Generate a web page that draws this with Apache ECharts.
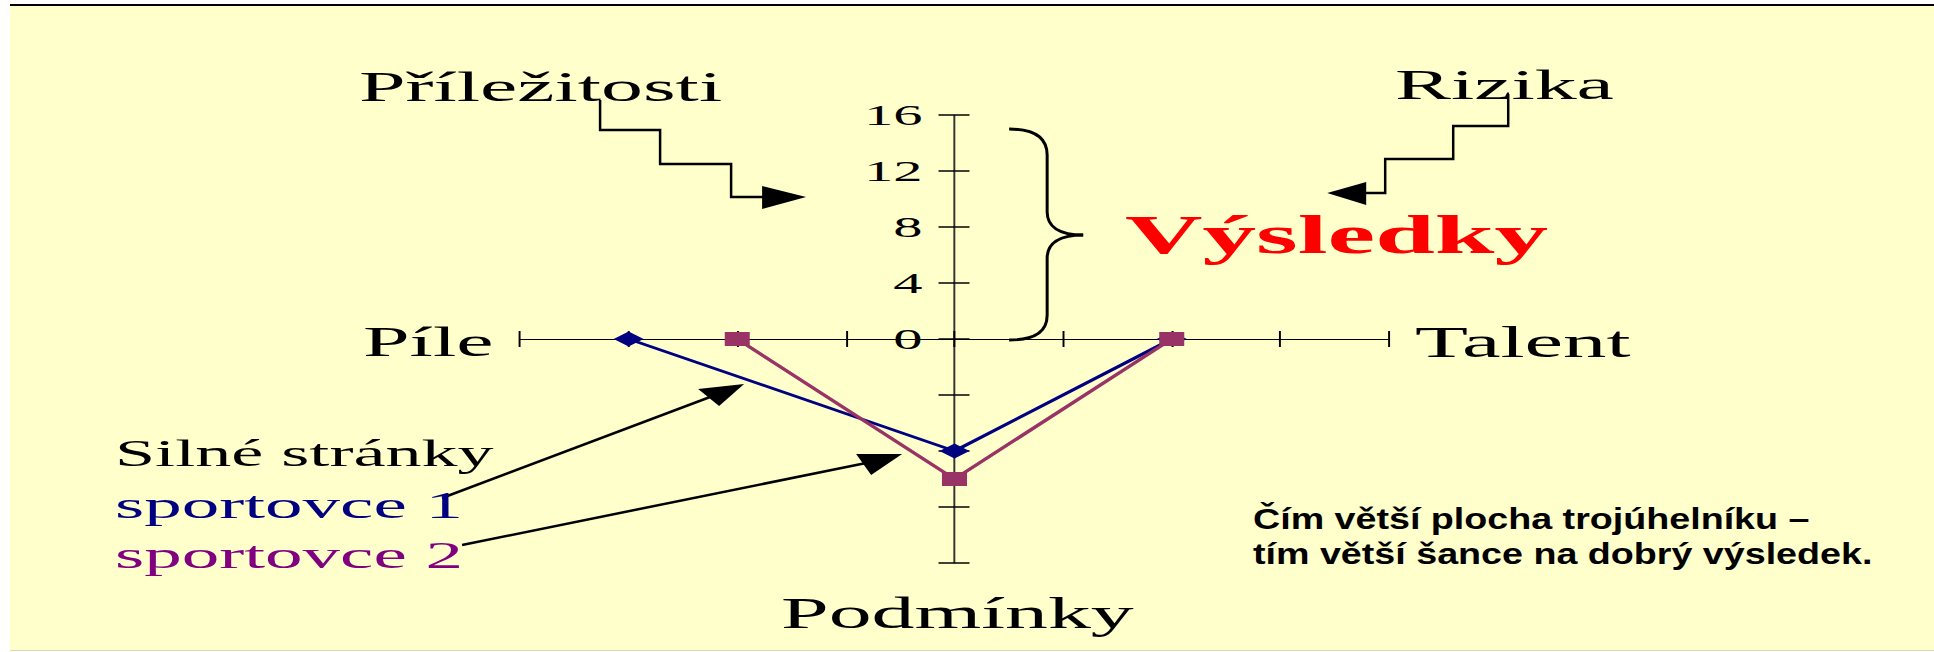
<!DOCTYPE html>
<html>
<head>
<meta charset="utf-8">
<title>Silné stránky sportovce</title>
<script src="https://cdn.jsdelivr.net/npm/echarts@6.0.0/dist/echarts.min.js"></script>
<style>
    html, body { margin: 0; padding: 0; background: #fff; overflow: hidden; }
    #chart { width: 992px; height: 652px; transform-origin: 0 0; }
</style>
</head>
<body>
<div id="chart"></div>
<script>
// hodnoty
var factors = ['Píle', 'Podmínky', 'Talent'];
var athlete1 = [12, 8, 8];
var athlete2 = [8, 10, 8];
var axisMin = -16;
var axisMax = 16;
var axisStep = 4;
var yTickLabels = [0, 4, 8, 12, 16];

// puvodni snimek je roztazeny do sirky
var S = 1934 / 992;
function fx(x) {
    return x / S;
}

function toPoints(values) {
    var dirs = { 'Píle': [-1, 0], 'Podmínky': [0, -1], 'Talent': [1, 0] };
    return factors.map(function (f, i) {
        return [dirs[f][0] * values[i], dirs[f][1] * values[i]];
    });
}

var serif = 'Liberation Serif';

function label(text, x, y, size, color, weight) {
    return {
        type: 'text',
        x: fx(x),
        y: y,
        z: 20,
        style: {
            text: text,
            fontFamily: serif,
            fontSize: size,
            fontWeight: weight || 'normal',
            fill: color || '#000',
            align: 'left',
            verticalAlign: 'middle'
        }
    };
}

function curve(x1, y1, c1x, c1y, c2x, c2y, x2, y2) {
    return {
        type: 'bezierCurve',
        shape: { x1: x1, y1: y1, cpx1: c1x, cpy1: c1y, cpx2: c2x, cpy2: c2y, x2: x2, y2: y2 },
        style: { stroke: '#000', lineWidth: 3, fill: null }
    };
}
function seg(x1, y1, x2, y2, w) {
    return { type: 'line', shape: { x1: x1, y1: y1, x2: x2, y2: y2 }, style: { stroke: '#000', lineWidth: w || 2.5 } };
}

// car v plnych souradnicich (skupina vraci roztazeni zpet)
var lineStyle = { stroke: '#000', lineWidth: 2.5, fill: null };
var shapes = [
    { type: 'polyline', shape: { points: [[600, 100], [600, 130], [660, 130], [660, 164], [731, 164], [731, 197], [766, 197]] }, style: lineStyle },
    { type: 'polygon', shape: { points: [[762, 186], [806, 197], [762, 209]] }, style: { fill: '#000' } },
    { type: 'polyline', shape: { points: [[1508, 94], [1508, 126], [1453, 126], [1453, 159], [1385, 159], [1385, 193], [1364, 193]] }, style: lineStyle },
    { type: 'polygon', shape: { points: [[1366, 182], [1327, 193], [1366, 205]] }, style: { fill: '#000' } },
    // slozena zavorka
    curve(1009, 129, 1035, 129, 1047, 138, 1047, 155),
    seg(1047, 155, 1047, 212, 3),
    curve(1047, 212, 1047, 226, 1058, 235, 1083, 235),
    curve(1083, 235, 1058, 235, 1047, 244, 1047, 258),
    seg(1047, 258, 1047, 315, 3),
    curve(1047, 315, 1047, 332, 1035, 340, 1009, 340),
    // sipky od popisku
    seg(442, 498, 710, 397),
    { type: 'polygon', shape: { points: [[744, 384], [698, 389], [719, 406]] }, style: { fill: '#000' } },
    seg(462, 545, 866, 463),
    { type: 'polygon', shape: { points: [[902, 454], [856, 454], [871, 475]] }, style: { fill: '#000' } }
];
shapes.forEach(function (s) { s.z = 20; });

var chartDom = document.getElementById('chart');
chartDom.style.transform = 'scaleX(' + S + ')';
var myChart = echarts.init(chartDom, null, { renderer: 'svg', width: 992, height: 652 });

var tickStyle = { color: '#000', width: 1.5 };
var gridLeft = fx(520);
var gridRight = fx(1389);
// svisla osa stoji v nule vodorovne osy
var yOffset = -(gridRight - gridLeft) / 2;

var option = {
    animation: false,
    backgroundColor: 'transparent',
    grid: {
        left: gridLeft,
        right: 992 - gridRight,
        top: 115,
        bottom: 652 - 563,
        containLabel: false,
        outerBoundsMode: 'none'
    },
    xAxis: [{
        type: 'value',
        position: 'bottom',
        min: axisMin,
        max: axisMax,
        interval: axisStep,
        axisLine: { onZero: true, onZeroAxisIndex: 0, lineStyle: { color: '#000', width: 1.2 } },
        axisTick: { length: 8, lineStyle: { color: '#000', width: 1 } },
        axisLabel: { show: false },
        splitLine: { show: false }
    }, {
        type: 'value',
        position: 'bottom',
        min: axisMin,
        max: axisMax,
        interval: axisStep,
        axisLine: { show: false, onZero: true, onZeroAxisIndex: 0 },
        axisTick: { show: true, inside: true, length: 8, lineStyle: { color: '#000', width: 1 } },
        axisLabel: { show: false },
        splitLine: { show: false }
    }],
    yAxis: [{
        type: 'value',
        position: 'left',
        offset: yOffset,
        min: axisMin,
        max: axisMax,
        interval: axisStep,
        axisLine: { onZero: false, lineStyle: { color: '#333', width: 1 } },
        axisTick: { length: fx(16), lineStyle: tickStyle },
        axisLabel: {
            margin: fx(955 - 923),
            fontFamily: serif,
            fontSize: 30,
            color: '#000',
            formatter: function (v) {
                return yTickLabels.indexOf(v) >= 0 ? String(v) : '';
            }
        },
        splitLine: { show: false }
    }, {
        type: 'value',
        position: 'left',
        offset: yOffset,
        min: axisMin,
        max: axisMax,
        interval: axisStep,
        axisLine: { show: false, onZero: false },
        axisTick: { show: true, inside: true, length: fx(15), lineStyle: tickStyle },
        axisLabel: { show: false },
        splitLine: { show: false }
    }],
    series: [{
        name: 'sportovce 1',
        type: 'line',
        xAxisIndex: 0,
        yAxisIndex: 0,
        data: toPoints(athlete1),
        symbol: 'diamond',
        symbolSize: [fx(30), 15],
        itemStyle: { color: '#000080' },
        lineStyle: { color: '#000080', width: 2.5 },
        z: 3
    }, {
        name: 'sportovce 2',
        type: 'line',
        xAxisIndex: 0,
        yAxisIndex: 0,
        data: toPoints(athlete2),
        symbol: 'rect',
        symbolSize: [fx(25), 14],
        itemStyle: { color: '#993366' },
        lineStyle: { color: '#993366', width: 2.5 },
        z: 4
    }],
    graphic: [
        { type: 'rect', z: -10, shape: { x: fx(10), y: 6, width: fx(1924), height: 644 }, style: { fill: '#FFFFCC' } },
        { type: 'rect', z: -9, shape: { x: fx(10), y: 4, width: fx(1924), height: 2 }, style: { fill: '#000' } },
        { type: 'rect', z: -9, shape: { x: fx(10), y: 650, width: fx(1924), height: 1 }, style: { fill: '#d8d8b4' } },
        { type: 'group', scaleX: 1 / S, children: shapes },
        label('Příležitosti', 359, 86.7, 43),
        label('Rizika', 1395, 84.7, 43),
        label('Výsledky', 1125, 234.6, 55, '#FF0000', 'bold'),
        label('Píle', 363, 341.7, 43),
        label('Talent', 1415, 341.7, 44.5),
        label('Podmínky', 781, 613.4, 44),
        label('Silné stránky', 115, 453.5, 37),
        label('sportovce 1', 115, 505.5, 38.5, '#000080'),
        label('sportovce 2', 115, 555.5, 38.5, '#800080'),
        {
            type: 'text', x: fx(1253), y: 518, z: 20, scaleX: 1.256 / S,
            style: { text: 'Čím větší plocha trojúhelníku –', fontFamily: 'Liberation Sans', fontSize: 30, fontWeight: 'bold', fill: '#000', verticalAlign: 'middle' }
        },
        {
            type: 'text', x: fx(1253), y: 553, z: 20, scaleX: 1.256 / S,
            style: { text: 'tím větší šance na dobrý výsledek.', fontFamily: 'Liberation Sans', fontSize: 30, fontWeight: 'bold', fill: '#000', verticalAlign: 'middle' }
        }
    ]
};

myChart.setOption(option);
</script>
</body>
</html>
